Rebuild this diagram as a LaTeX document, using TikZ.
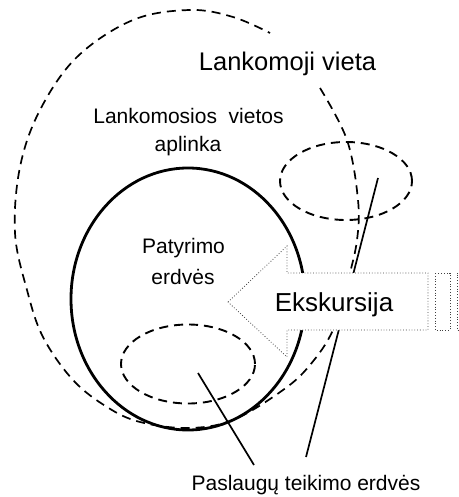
\documentclass[tikz,border=0pt]{standalone}
\usepackage{fontspec}
\setmainfont{Liberation Sans}
\usetikzlibrary{shapes.geometric}
\begin{document}
\begin{tikzpicture}[x=1pt,y=-1pt,
  outerdash/.style={line width=1.7pt, dash pattern=on 9pt off 6pt},
  smalldash/.style={draw, ellipse, inner sep=0pt, line width=1.9pt, dash pattern=on 9pt off 6pt},
  ringstyle/.style={draw, ellipse, inner sep=0pt, line width=2.8pt},
  pointer/.style={line width=1.7pt},
  arrowbox/.style={draw=black!75, fill=white, line width=0.8pt, dotted},
  lbl/.style={inner sep=0pt, anchor=base, font=\fontsize{21}{25}\selectfont}]
\useasboundingbox (0,0) rectangle (458,497);

% outer dashed region (open at the top right)
\draw[outerdash] plot[smooth, tension=0.6] coordinates {(320,88) (347,140) (358,200) (357,240) (348,280) (333,330) (310,365) (283,390) (233,420) (188,428) (140,422) (107,407) (73,380) (43,337) (27,290) (15,233) (20,167) (40,110) (77,57) (133,20) (190,10) (233,17) (270,33)};

% solid region
\node[ringstyle, minimum width=234pt, minimum height=262pt] (ring) at (188,299) {};

% service spaces
\node[smalldash, minimum width=132pt, minimum height=78pt] (svcA) at (346,181) {};
\node[smalldash, minimum width=134pt, minimum height=79pt] (svcB) at (188,364) {};

% connectors
\coordinate (pA) at (378,178);
\coordinate (pAe) at (306,457);
\coordinate (pB) at (198,373);
\coordinate (pBe) at (254,465);
\draw[pointer] (pA) -- (pAe);
\draw[pointer] (pB) -- (pBe);

% excursion arrow
\draw[arrowbox] (228,302) -- (287,246) -- (287,273) -- (428,273) -- (428,330) -- (287,330) -- (287,357) -- cycle;
\draw[arrowbox] (435,273) rectangle (450,330);
\draw[arrowbox] (461,273) -- (457,273) -- (457,330) -- (461,330);

% labels
\node[lbl, font=\fontsize{25.5}{30}\selectfont] (vieta) at (287.5,71) {Lankomoji vieta};
\node[lbl] (apl1) at (188.5,124) {Lankomosios\ \ vietos};
\node[lbl] (apl2) at (188,151) {aplinka};
\node[lbl] (pat1) at (183.5,253.5) {Patyrimo};
\node[lbl] (pat2) at (183,284) {erdvės};
\node[lbl, font=\fontsize{26}{30}\selectfont] (eksk) at (334,311.5) {Ekskursija};
\node[lbl] (pasl) at (306,490.5) {Paslaugų teikimo erdvės};
\end{tikzpicture}
\end{document}
